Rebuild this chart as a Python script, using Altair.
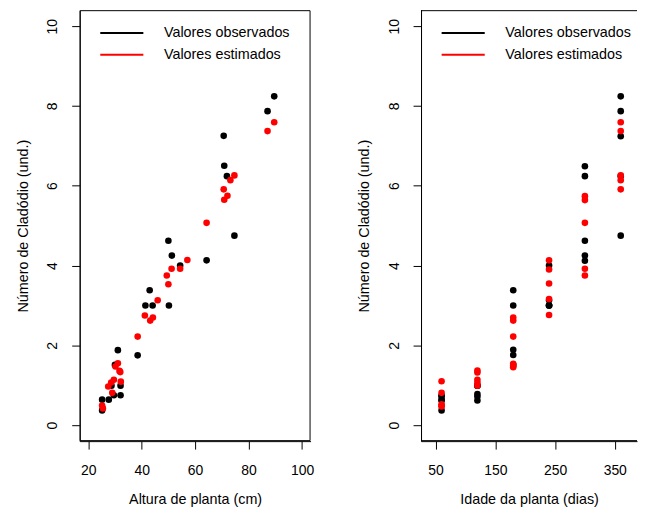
import altair as alt
import pandas as pd

FONT = "Liberation Sans"
BLACK = "#000000"
RED = "#FF0000"

# ---- data ----
left_obs_x = [25.2, 27.7, 25.2, 29.6, 32.1, 32.1, 28.7, 31.1, 30.0, 38.5, 41.4, 44.1,
              50.2, 43.0, 50.0, 51.3, 54.4, 64.3, 74.7, 70.7, 70.9, 71.9, 87.1, 89.6]
left_obs_y = [0.64, 0.64, 0.37, 0.75, 0.75, 0.99, 0.99, 1.88, 1.51, 1.75, 3.0, 3.0,
              3.0, 3.38, 4.62, 4.25, 4.0, 4.13, 4.75, 7.25, 6.5, 6.24, 7.87, 8.24]
left_est_x = [25.2, 25.5, 29.0, 27.5, 28.6, 29.6, 32.2, 31.7, 32.0, 30.2, 31.1, 38.5,
              41.2, 43.2, 44.2, 46.0, 49.4, 50.0, 51.2, 54.4, 57.1, 64.3, 70.7, 72.1,
              70.9, 74.7, 73.2, 87.1, 89.6]
left_est_y = [0.49, 0.42, 0.81, 0.97, 1.07, 1.14, 1.09, 1.36, 1.33, 1.47, 1.55, 2.22,
              2.75, 2.62, 2.70, 3.13, 3.75, 3.53, 3.92, 3.92, 4.14, 5.07, 5.91, 5.75,
              5.65, 6.26, 6.14, 7.37, 7.59]

right_obs_x = [60, 60, 60, 60, 60, 120, 120, 120, 120, 120, 180, 180, 180, 180, 180,
               240, 240, 240, 240, 240, 300, 300, 300, 300, 300, 360, 360, 360, 360, 360]
right_obs_y = [0.37, 0.62, 0.64, 0.72, 0.75, 0.62, 0.72, 0.78, 0.99, 0.99,
               1.51, 1.76, 1.89, 3.0, 3.38, 3.0, 3.0, 3.0, 3.13, 4.0,
               4.12, 4.25, 4.62, 6.24, 6.49, 4.75, 6.24, 7.24, 7.87, 8.24]
right_est_x = [60, 60, 60, 60, 60, 120, 120, 120, 120, 120, 180, 180, 180, 180, 180, 180,
               240, 240, 240, 240, 240, 300, 300, 300, 300, 300, 360, 360, 360, 360, 360]
right_est_y = [0.47, 0.52, 0.81, 1.10, 0.49, 0.99, 1.06, 1.14, 1.32, 1.37,
               1.45, 1.49, 1.54, 2.22, 2.62, 2.70, 2.76, 3.16, 3.55, 3.90, 4.13,
               3.75, 3.92, 5.07, 5.64, 5.74, 5.91, 6.14, 6.26, 7.37, 7.59]

legend_labels = ["Valores observados", "Valores estimados"]
legend_colors = [BLACK, RED]

y_ticks = [0, 2, 4, 6, 8, 10]
left_x_ticks = [20, 40, 60, 80, 100]
right_x_ticks = [50, 100, 150, 200, 250, 300, 350]

y_title = "Número de Cladódio (und.)"
left_x_title = "Altura de planta (cm)"
right_x_title = "Idade da planta (dias)"

LW, RW, H = 232, 217, 433
DOT = 44


def y_enc():
    return alt.Y("y:Q", scale=alt.Scale(domain=[-0.4, 10.4], nice=False, zero=False),
                 axis=alt.Axis(values=y_ticks, title=y_title, labelAngle=270,
                               labelAlign="center", labelBaseline="alphabetic",
                               labelPadding=15, titlePadding=15.6, format="d",
                               domain=True))


def panel(ox, oy, ex, ey, xdomain, xticks, xtitle, width, label_expr, box_right):
    xscale = alt.Scale(domain=xdomain, nice=False, zero=False)
    xaxis = alt.Axis(values=xticks, title=xtitle, labelPadding=15, titlePadding=15,
                     labelExpr=label_expr, format="d", domain=True)
    obs = alt.Chart(pd.DataFrame({"x": ox, "y": oy})).mark_circle(
        size=DOT, opacity=1, color=BLACK).encode(
        x=alt.X("x:Q", scale=xscale, axis=xaxis), y=y_enc())
    est = alt.Chart(pd.DataFrame({"x": ex, "y": ey})).mark_circle(
        size=DOT, opacity=1, color=RED).encode(x="x:Q", y="y:Q")
    dummy = alt.Data(values=[{}])
    layers = []
    if box_right:
        layers.append(alt.Chart(dummy).mark_rect(
            filled=False, stroke=BLACK, strokeWidth=1, fillOpacity=0).encode(
            x=alt.value(0.5), x2=alt.value(width - 0.5),
            y=alt.value(0.5), y2=alt.value(H - 0.5)))
    else:
        layers.append(alt.Chart(dummy).mark_rule(color=BLACK, strokeWidth=1).encode(
            x=alt.value(0), x2=alt.value(width), y=alt.value(0.5)))
        layers.append(alt.Chart(dummy).mark_rule(color=BLACK, strokeWidth=1).encode(
            x=alt.value(0.5), y=alt.value(0), y2=alt.value(H)))
        layers.append(alt.Chart(dummy).mark_rule(color=BLACK, strokeWidth=1).encode(
            x=alt.value(0), x2=alt.value(width), y=alt.value(H - 0.5)))
    layers += [obs, est]
    for i, (lab, col) in enumerate(zip(legend_labels, legend_colors)):
        yy = 23 + i * 21.7
        layers.append(alt.Chart(dummy).mark_rule(color=col, strokeWidth=2).encode(
            x=alt.value(20.7), x2=alt.value(64), y=alt.value(yy)))
        layers.append(alt.Chart(dummy).mark_text(
            align="left", baseline="middle", font=FONT, fontSize=14.4, color=BLACK).encode(
            x=alt.value(84.7), y=alt.value(yy), text=alt.value(lab)))
    return alt.layer(*layers).properties(width=width, height=H)


left = panel(left_obs_x, left_obs_y, left_est_x, left_est_y, [16.8, 103.2],
             left_x_ticks, left_x_title, LW, "datum.label", True)
right = panel(right_obs_x, right_obs_y, right_est_x, right_est_y, [25.6, 25.6 + RW / 0.6],
              right_x_ticks, right_x_title, RW,
              "datum.value % 100 == 50 ? datum.label : ''", False)

chart = alt.hconcat(left, right, spacing=41).properties(
    padding={"left": 6, "top": 0, "right": 0, "bottom": 0}
).configure_view(stroke="transparent").configure_axis(
    labelFont=FONT, titleFont=FONT, labelFontSize=14, titleFontSize=14.4,
    titleFontWeight="normal", labelColor=BLACK, titleColor=BLACK,
    tickColor=BLACK, domainColor=BLACK, tickSize=8, tickWidth=1, domainWidth=1,
    grid=False, labelFlush=False, labelOverlap=False
)

chart.save("out.html", embed_options={"renderer": "svg", "actions": False})
